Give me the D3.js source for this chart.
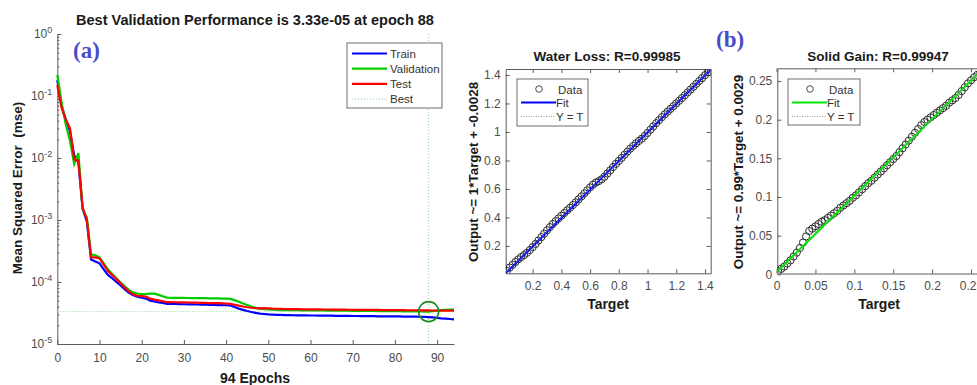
<!DOCTYPE html>
<html>
<head>
<meta charset="utf-8">
<script src="https://cdn.jsdelivr.net/npm/d3@7"></script>
<style>
  body { margin: 0; background: #fff; }
  svg { font-family: 'Liberation Sans', Arial, sans-serif; }
  .tick text { fill: #4d4d4d; font-size: 12px; }
  .domain, .tick line { stroke: #5c5c5c; }
</style>
</head>
<body>
<script>
// ---- panel (a) data: mse per epoch (0..94)
const trainMse = [0.18, 0.07, 0.042, 0.027, 0.011, 0.0085, 0.0015, 0.00095, 2.3e-4, 2.15e-4,
  2.0e-4, 1.6e-4, 1.3e-4, 1.15e-4, 1.0e-4, 8.8e-5, 7.6e-5, 6.7e-5, 6.1e-5, 5.8e-5,
  5.6e-5, 5.4e-5, 5.0e-5, 4.85e-5, 4.7e-5, 4.6e-5, 4.45e-5, 4.43e-5, 4.42e-5, 4.4e-5,
  4.38e-5, 4.37e-5, 4.35e-5, 4.34e-5, 4.32e-5, 4.3e-5, 4.28e-5, 4.27e-5, 4.25e-5, 4.23e-5,
  4.22e-5, 4.2e-5, 3.95e-5, 3.72e-5, 3.55e-5, 3.4e-5, 3.28e-5, 3.18e-5, 3.1e-5, 3.05e-5,
  3.0e-5, 2.97e-5, 2.95e-5, 2.94e-5, 2.93e-5, 2.92e-5, 2.91e-5, 2.9e-5, 2.9e-5, 2.89e-5,
  2.88e-5, 2.88e-5, 2.87e-5, 2.87e-5, 2.86e-5, 2.86e-5, 2.85e-5, 2.85e-5, 2.84e-5, 2.84e-5,
  2.83e-5, 2.83e-5, 2.82e-5, 2.82e-5, 2.81e-5, 2.81e-5, 2.8e-5, 2.8e-5, 2.79e-5, 2.79e-5,
  2.78e-5, 2.78e-5, 2.77e-5, 2.77e-5, 2.76e-5, 2.76e-5, 2.75e-5, 2.74e-5, 2.72e-5, 2.68e-5,
  2.63e-5, 2.59e-5, 2.56e-5, 2.53e-5, 2.5e-5]
const validMse = [0.22, 0.08, 0.035, 0.019, 0.008, 0.012, 0.0015, 0.0011, 2.8e-4, 2.7e-4,
  2.5e-4, 2.0e-4, 1.6e-4, 1.35e-4, 1.15e-4, 9.8e-5, 8.5e-5, 7.4e-5, 6.8e-5, 6.5e-5,
  6.4e-5, 6.4e-5, 6.5e-5, 6.5e-5, 6.2e-5, 5.9e-5, 5.6e-5, 5.55e-5, 5.55e-5, 5.54e-5,
  5.53e-5, 5.52e-5, 5.51e-5, 5.5e-5, 5.49e-5, 5.48e-5, 5.46e-5, 5.45e-5, 5.43e-5, 5.4e-5,
  5.38e-5, 5.35e-5, 5.1e-5, 4.8e-5, 4.5e-5, 4.25e-5, 4.02e-5, 3.85e-5, 3.72e-5, 3.65e-5,
  3.6e-5, 3.57e-5, 3.55e-5, 3.53e-5, 3.52e-5, 3.51e-5, 3.5e-5, 3.5e-5, 3.49e-5, 3.49e-5,
  3.48e-5, 3.48e-5, 3.47e-5, 3.47e-5, 3.46e-5, 3.46e-5, 3.45e-5, 3.45e-5, 3.44e-5, 3.44e-5,
  3.43e-5, 3.43e-5, 3.42e-5, 3.42e-5, 3.41e-5, 3.41e-5, 3.4e-5, 3.4e-5, 3.39e-5, 3.39e-5,
  3.38e-5, 3.38e-5, 3.37e-5, 3.37e-5, 3.36e-5, 3.35e-5, 3.35e-5, 3.34e-5, 3.33e-5, 3.4e-5,
  3.46e-5, 3.52e-5, 3.56e-5, 3.59e-5, 3.6e-5]
const testMse = [0.15, 0.065, 0.042, 0.03, 0.0095, 0.009, 0.0016, 0.001, 2.5e-4, 2.5e-4,
  2.4e-4, 1.9e-4, 1.5e-4, 1.3e-4, 1.12e-4, 9.5e-5, 8.1e-5, 7.0e-5, 6.3e-5, 6.0e-5,
  5.9e-5, 5.8e-5, 5.4e-5, 5.2e-5, 5.05e-5, 4.9e-5, 4.75e-5, 4.72e-5, 4.71e-5, 4.7e-5,
  4.68e-5, 4.67e-5, 4.65e-5, 4.64e-5, 4.62e-5, 4.6e-5, 4.58e-5, 4.56e-5, 4.55e-5, 4.53e-5,
  4.5e-5, 4.45e-5, 4.3e-5, 4.15e-5, 4.02e-5, 3.92e-5, 3.84e-5, 3.78e-5, 3.76e-5, 3.78e-5,
  3.76e-5, 3.72e-5, 3.7e-5, 3.68e-5, 3.67e-5, 3.66e-5, 3.65e-5, 3.64e-5, 3.63e-5, 3.62e-5,
  3.62e-5, 3.61e-5, 3.61e-5, 3.6e-5, 3.6e-5, 3.59e-5, 3.59e-5, 3.58e-5, 3.58e-5, 3.57e-5,
  3.57e-5, 3.56e-5, 3.56e-5, 3.55e-5, 3.55e-5, 3.54e-5, 3.54e-5, 3.53e-5, 3.53e-5, 3.52e-5,
  3.52e-5, 3.51e-5, 3.51e-5, 3.5e-5, 3.5e-5, 3.49e-5, 3.49e-5, 3.48e-5, 3.48e-5, 3.47e-5,
  3.47e-5, 3.46e-5, 3.46e-5, 3.45e-5, 3.45e-5]
const bestEpoch = 88
const bestPerf = 3.33e-5
const epochTicks = [0, 10, 20, 30, 40, 50, 60, 70, 80, 90]
const decadeTicks = [1e-5, 1e-4, 1e-3, 1e-2, 1e-1, 1]

// ---- panel (b) data: regression scatter
const waterTarget = [0.02, 0.04, 0.06, 0.08, 0.10, 0.12, 0.14, 0.16, 0.18, 0.20, 0.22, 0.24,
  0.26, 0.28, 0.30, 0.32, 0.34, 0.36, 0.38, 0.40, 0.42, 0.44, 0.46, 0.48, 0.50, 0.52, 0.54,
  0.56, 0.58, 0.60, 0.62, 0.64, 0.66, 0.68, 0.70, 0.72, 0.74, 0.76, 0.78, 0.80, 0.82, 0.84,
  0.86, 0.88, 0.90, 0.92, 0.94, 0.96, 0.98, 1.00, 1.02, 1.04, 1.06, 1.08, 1.10, 1.12, 1.14,
  1.16, 1.18, 1.20, 1.22, 1.24, 1.26, 1.28, 1.30, 1.32, 1.34, 1.36, 1.38, 1.40, 1.42, 1.44]
const waterOutput = [0.025, 0.048, 0.068, 0.088, 0.106, 0.122, 0.136, 0.152, 0.171, 0.192, 0.214, 0.238,
  0.262, 0.286, 0.310, 0.332, 0.354, 0.374, 0.393, 0.412, 0.431, 0.450, 0.468, 0.487, 0.506, 0.527, 0.548,
  0.569, 0.590, 0.611, 0.630, 0.645, 0.655, 0.668, 0.686, 0.708, 0.731, 0.754, 0.776, 0.797, 0.818, 0.840,
  0.862, 0.883, 0.902, 0.920, 0.937, 0.953, 0.972, 0.993, 1.016, 1.039, 1.062, 1.083, 1.104, 1.124, 1.143,
  1.162, 1.181, 1.200, 1.219, 1.238, 1.258, 1.278, 1.298, 1.318, 1.338, 1.358, 1.378, 1.399, 1.419, 1.438]
const waterFit = {slope: 1, offset: -0.0028}
const waterTicks = [0.2, 0.4, 0.6, 0.8, 1, 1.2, 1.4]

const solidTarget = [0.002, 0.006, 0.010, 0.014, 0.018, 0.022, 0.026, 0.030, 0.034, 0.038, 0.042,
  0.046, 0.050, 0.054, 0.058, 0.062, 0.066, 0.070, 0.074, 0.078, 0.082, 0.086, 0.090, 0.094,
  0.098, 0.102, 0.106, 0.110, 0.114, 0.118, 0.122, 0.126, 0.130, 0.134, 0.138, 0.142, 0.146,
  0.150, 0.154, 0.158, 0.162, 0.166, 0.170, 0.174, 0.178, 0.182, 0.186, 0.190, 0.194, 0.198,
  0.202, 0.206, 0.210, 0.214, 0.218, 0.222, 0.226, 0.230, 0.234, 0.238, 0.242, 0.246, 0.250,
  0.254, 0.258, 0.262, 0.266]
const solidOutput = [0.004, 0.007, 0.010, 0.014, 0.018, 0.023, 0.028, 0.034, 0.041, 0.049, 0.056,
  0.059, 0.062, 0.065, 0.068, 0.070, 0.073, 0.076, 0.079, 0.082, 0.086, 0.089, 0.092, 0.095,
  0.099, 0.102, 0.106, 0.110, 0.114, 0.118, 0.121, 0.125, 0.129, 0.133, 0.137, 0.141, 0.145,
  0.149, 0.153, 0.158, 0.163, 0.168, 0.173, 0.178, 0.183, 0.188, 0.193, 0.197, 0.200, 0.203,
  0.206, 0.209, 0.212, 0.215, 0.218, 0.222, 0.225, 0.228, 0.232, 0.237, 0.242, 0.247, 0.251,
  0.255, 0.258, 0.261, 0.265]
const solidFit = {slope: 0.99, offset: 0.0029}
const solidTicks = [0, 0.05, 0.1, 0.15, 0.2, 0.25]

const svg = d3.select('body')
    .append('svg')
    .attr('width', 977)
    .attr('height', 385)

// ================= panel (a) =================
const xA = d3.scaleLinear().domain([0, 94]).range([57.3, 454])
const yA = d3.scaleLog().domain([1e-5, 1]).range([344, 34])

const gA = svg.append('g')

gA.append('g')
    .attr('transform', `translate(0, ${yA(1e-5)})`)
    .call(d3.axisBottom(xA).tickValues(epochTicks).tickSizeInner(-4).tickSizeOuter(0).tickPadding(9))

// minor log ticks
const minor = []
decadeTicks.slice(0, -1).forEach(d => { for (let k = 2; k < 10; k++) minor.push(d * k) })
gA.append('g')
    .attr('transform', `translate(${xA(0)}, 0)`)
    .call(d3.axisLeft(yA).tickValues(minor).tickSizeInner(-2).tickSizeOuter(0).tickFormat(''))
    .select('.domain').remove()

const yAxisA = gA.append('g')
    .attr('transform', `translate(${xA(0)}, 0)`)
    .call(d3.axisLeft(yA).tickValues(decadeTicks).tickSizeInner(-4).tickSizeOuter(0).tickPadding(5).tickFormat(''))

yAxisA.selectAll('.tick text').each(function(d) {
    const t = d3.select(this)
    t.append('tspan').text('10')
    t.append('tspan').attr('dy', '-0.6em').attr('font-size', '9px').text(Math.round(Math.log10(d)))
})

// best markers
gA.append('line')
    .attr('x1', xA(bestEpoch)).attr('x2', xA(bestEpoch))
    .attr('y1', yA(1)).attr('y2', yA(1e-5))
    .attr('stroke', '#8fd08f').attr('stroke-dasharray', '1,2')
gA.append('line')
    .attr('x1', xA(0)).attr('x2', xA(94))
    .attr('y1', yA(bestPerf)).attr('y2', yA(bestPerf))
    .attr('stroke', '#8fd08f').attr('stroke-dasharray', '1,2')

const mseLine = d3.line().x((d, i) => xA(i)).y(d => yA(d))
const seriesA = [
    {name: 'Train', values: trainMse, color: '#0000ff'},
    {name: 'Validation', values: validMse, color: '#00cc00'},
    {name: 'Test', values: testMse, color: '#ff0000'}
]
seriesA.forEach(s => {
    gA.append('path')
        .attr('d', mseLine(s.values))
        .attr('fill', 'none')
        .attr('stroke', s.color)
        .attr('stroke-width', 2.2)
})

gA.append('circle')
    .attr('cx', xA(bestEpoch)).attr('cy', yA(bestPerf)).attr('r', 10)
    .attr('fill', 'none').attr('stroke', '#1f8c1f').attr('stroke-width', 1.6)

// legend (a)
const legA = gA.append('g')
legA.append('rect').attr('x', 347).attr('y', 43).attr('width', 95).attr('height', 65)
    .attr('fill', '#fff').attr('stroke', '#6e6e6e')
const legItems = seriesA.concat([{name: 'Best', color: '#8fd08f', dotted: true}])
legItems.forEach((s, i) => {
    const yy = 53.5 + i * 15.2
    legA.append('line').attr('x1', 352).attr('x2', 387).attr('y1', yy).attr('y2', yy)
        .attr('stroke', s.color).attr('stroke-width', s.dotted ? 1 : 2.2)
        .attr('stroke-dasharray', s.dotted ? '1,2' : null)
    legA.append('text').attr('x', 390).attr('y', yy + 4).attr('font-size', '11.5px')
        .attr('fill', '#333').text(s.name)
})

gA.append('text').attr('x', 255).attr('y', 25).attr('text-anchor', 'middle')
    .attr('font-size', '14.5px').attr('font-weight', 'bold').attr('fill', '#1a1a1a')
    .text('Best Validation Performance is 3.33e-05 at epoch 88')
gA.append('text').attr('x', 255).attr('y', 383).attr('text-anchor', 'middle')
    .attr('font-size', '14px').attr('font-weight', 'bold').attr('fill', '#1a1a1a')
    .text('94 Epochs')
gA.append('text').attr('transform', 'translate(22, 188) rotate(-90)').attr('text-anchor', 'middle')
    .attr('font-size', '13.5px').attr('font-weight', 'bold').attr('fill', '#1a1a1a')
    .text('Mean Squared Error \u00a0(mse)')
gA.append('text').attr('x', 73).attr('y', 58)
    .attr('font-family', "'Liberation Serif', 'Times New Roman', serif")
    .attr('font-size', '23px').attr('font-weight', 'bold').attr('fill', '#4a4acb')
    .text('(a)')

// ================= panel (b) =================
function regressionPanel(opt) {
    const g = svg.append('g')
    const x = d3.scaleLinear().domain(opt.xDomain).range(opt.xRange)
    const y = d3.scaleLinear().domain(opt.yDomain).range(opt.yRange)
    const [x0, x1] = opt.xRange
    const [y0, y1] = opt.yRange

    g.append('clipPath').attr('id', opt.id)
        .append('rect').attr('x', x0).attr('y', y1).attr('width', x1 - x0).attr('height', y0 - y1)

    g.append('g').attr('transform', `translate(0, ${y0})`)
        .call(d3.axisBottom(x).tickValues(opt.xTicks).tickSizeInner(-4).tickSizeOuter(0).tickPadding(8)
            .tickFormat(d3.format('~g')))
    g.append('g').attr('transform', `translate(0, ${y1})`)
        .call(d3.axisTop(x).tickValues(opt.xTicks).tickSizeInner(-4).tickSizeOuter(0).tickFormat(''))
    g.append('g').attr('transform', `translate(${x0}, 0)`)
        .call(d3.axisLeft(y).tickValues(opt.yTicks).tickSizeInner(-4).tickSizeOuter(0).tickPadding(5)
            .tickFormat(d3.format('~g')))
    g.append('g').attr('transform', `translate(${x1}, 0)`)
        .call(d3.axisRight(y).tickValues(opt.yTicks).tickSizeInner(-4).tickSizeOuter(0).tickFormat(''))

    const plot = g.append('g').attr('clip-path', `url(#${opt.id})`)

    plot.selectAll('circle.data')
        .data(opt.target)
        .enter()
        .append('circle')
        .attr('class', 'data')
        .attr('cx', d => x(d))
        .attr('cy', (d, i) => y(opt.output[i]))
        .attr('r', 3.6)
        .attr('fill', 'none')
        .attr('stroke', '#2e2e2e')
        .attr('stroke-width', 1)

    const xd = opt.xDomain
    plot.append('line')
        .attr('x1', x(xd[0])).attr('x2', x(xd[1]))
        .attr('y1', y(opt.fit.slope * xd[0] + opt.fit.offset))
        .attr('y2', y(opt.fit.slope * xd[1] + opt.fit.offset))
        .attr('stroke', opt.fitColor).attr('stroke-width', 2)
    plot.append('line')
        .attr('x1', x(xd[0])).attr('x2', x(xd[1]))
        .attr('y1', y(xd[0])).attr('y2', y(xd[1]))
        .attr('stroke', '#9a9a9a').attr('stroke-dasharray', '1,1.5')

    // legend
    const L = opt.legend
    g.append('rect').attr('x', L.x).attr('y', L.y).attr('width', L.w).attr('height', L.h)
        .attr('fill', '#fff').attr('stroke', '#6e6e6e')
    g.append('circle').attr('cx', L.x + 22).attr('cy', L.y + 10).attr('r', 3.3)
        .attr('fill', 'none').attr('stroke', '#3a3a3a').attr('stroke-width', 0.9)
    g.append('line').attr('x1', L.x + 4).attr('x2', L.x + 39).attr('y1', L.y + 23.5).attr('y2', L.y + 23.5)
        .attr('stroke', opt.fitColor).attr('stroke-width', 2)
    g.append('line').attr('x1', L.x + 4).attr('x2', L.x + 39).attr('y1', L.y + 37.5).attr('y2', L.y + 37.5)
        .attr('stroke', '#9a9a9a').attr('stroke-dasharray', '1,1.5')
    const labels = ['Data', 'Fit', 'Y = T']
    labels.forEach((t, i) => {
        g.append('text').attr('x', L.x + (i === 0 ? 41 : 39)).attr('y', L.y + 14.5 + i * 13.8)
            .attr('font-size', '11.5px').attr('fill', '#333').text(t)
    })

    g.append('text').attr('x', opt.titleX).attr('y', 61).attr('text-anchor', 'middle')
        .attr('font-size', '13.5px').attr('font-weight', 'bold').attr('fill', '#1a1a1a')
        .text(opt.title)
    g.append('text').attr('x', opt.titleX + 1).attr('y', 309).attr('text-anchor', 'middle')
        .attr('font-size', '14px').attr('font-weight', 'bold').attr('fill', '#1a1a1a')
        .text('Target')
    g.append('text').attr('transform', `translate(${opt.ylabX}, 172) rotate(-90)`).attr('text-anchor', 'middle')
        .attr('font-size', '13.4px').attr('font-weight', 'bold').attr('fill', '#1a1a1a')
        .text(opt.ylabel)
}

regressionPanel({
    id: 'clipWater',
    xDomain: [0.012, 1.44], xRange: [505.7, 710.7],
    yDomain: [0.008, 1.442], yRange: [273.3, 69],
    xTicks: waterTicks, yTicks: waterTicks,
    target: waterTarget, output: waterOutput,
    fit: waterFit, fitColor: '#0000ff',
    legend: {x: 517, y: 79, w: 71, h: 47},
    title: 'Water Loss: R=0.99985', titleX: 607,
    ylabel: 'Output ~= 1*Target + -0.0028', ylabX: 478
})

regressionPanel({
    id: 'clipSolid',
    xDomain: [0.001, 0.27], xRange: [777.3, 986.6],
    yDomain: [0.001, 0.2665], yRange: [273.5, 68.3],
    xTicks: solidTicks, yTicks: solidTicks,
    target: solidTarget, output: solidOutput,
    fit: solidFit, fitColor: '#00e600',
    legend: {x: 788, y: 79, w: 72, h: 46},
    title: 'Solid Gain: R=0.99947', titleX: 878,
    ylabel: 'Output ~= 0.99*Target + 0.0029', ylabX: 743
})

svg.append('text').attr('x', 716).attr('y', 47)
    .attr('font-family', "'Liberation Serif', 'Times New Roman', serif")
    .attr('font-size', '23px').attr('font-weight', 'bold').attr('fill', '#4a4acb')
    .text('(b)')
</script>
</body>
</html>
